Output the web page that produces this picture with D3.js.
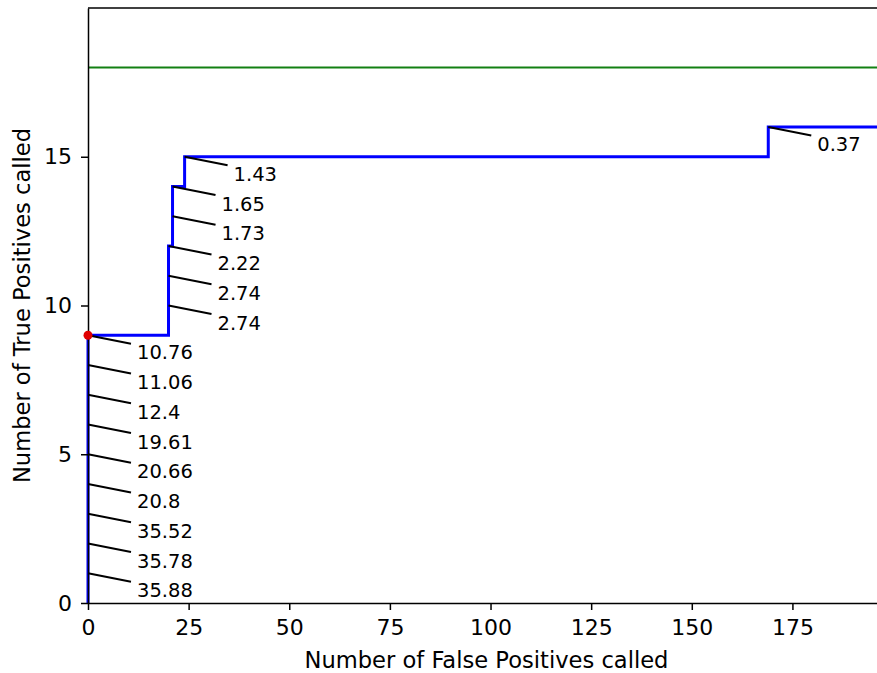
<!DOCTYPE html>
<html>
<head>
<meta charset="utf-8">
<script src="https://cdn.jsdelivr.net/npm/d3@7"></script>
<style>
  body { margin: 0; background: #fff; }
  svg { display: block; font-family: "DejaVu Sans", sans-serif; }
</style>
</head>
<body>
<div id="contents"></div>
<script>
// step curve vertices (false positives, true positives)
var stepFP = [0, 0, 20, 21, 24, 169, 198];
var stepTP = [0, 9, 12, 14, 15, 16, 16];

// annotated points and their score labels
var annFP = [0, 0, 0, 0, 0, 0, 0, 0, 0, 20, 20, 20, 21, 21, 24, 169];
var annTP = [1, 2, 3, 4, 5, 6, 7, 8, 9, 10, 11, 12, 13, 14, 15, 16];
var annLabel = ['35.88', '35.78', '35.52', '20.8', '20.66', '19.61', '12.4', '11.06',
                '10.76', '2.74', '2.74', '2.22', '1.73', '1.65', '1.43', '0.37'];

var totalTP = 18;
var markFP = [0], markTP = [9];

var xTicks = [0, 25, 50, 75, 100, 125, 150, 175];
var yTicks = [0, 5, 10, 15];

window.onload = function () {
    'use strict';
    var W = 877, H = 673;
    var left = 88, top = 8, right = 885, bottom = 603;

    var svg = d3.select('#contents').append('svg')
        .attr('width', W).attr('height', H);

    var x = d3.scaleLinear().domain([0, 198]).range([left, right]);
    var y = d3.scaleLinear().domain([0, 20]).range([bottom, top]);

    // total positives line
    svg.append('line')
        .attr('x1', x(0)).attr('x2', x(198))
        .attr('y1', y(totalTP)).attr('y2', y(totalTP))
        .attr('stroke', '#138013').attr('stroke-width', 2);

    // step line
    var pts = stepFP.map(function (d, i) { return [d, stepTP[i]]; });
    var line = d3.line()
        .x(function (d) { return x(d[0]); })
        .y(function (d) { return y(d[1]); })
        .curve(d3.curveStepAfter);
    svg.append('path')
        .attr('d', line(pts))
        .attr('fill', 'none')
        .attr('stroke', '#0000ff')
        .attr('stroke-width', 3);

    // annotations
    var ann = svg.append('g');
    annFP.forEach(function (fp, i) {
        var px = x(fp), py = y(annTP[i]);
        ann.append('line')
            .attr('x1', px).attr('y1', py)
            .attr('x2', px + 43).attr('y2', py + 8.5)
            .attr('stroke', '#000').attr('stroke-width', 2);
        ann.append('text')
            .attr('x', px + 49).attr('y', py + 24)
            .attr('font-size', 19.5)
            .attr('fill', '#000')
            .text(annLabel[i]);
    });

    // axes
    var xAxis = svg.append('g')
        .attr('transform', 'translate(0,' + bottom + ')')
        .call(d3.axisBottom(x).tickValues(xTicks).tickSize(7).tickSizeOuter(0).tickPadding(9));
    var yAxis = svg.append('g')
        .attr('transform', 'translate(' + left + ',0)')
        .call(d3.axisLeft(y).tickValues(yTicks).tickSize(7).tickSizeOuter(0).tickPadding(9));
    [xAxis, yAxis].forEach(function (a) {
        a.selectAll('text').attr('font-size', 22).attr('fill', '#000')
            .attr('font-family', '"DejaVu Sans", sans-serif');
        a.selectAll('line').attr('stroke', '#000').attr('stroke-width', 1.5);
        a.select('.domain').attr('stroke', '#000').attr('stroke-width', 1.5);
    });

    // top spine
    svg.append('line')
        .attr('x1', left).attr('x2', right)
        .attr('y1', top).attr('y2', top)
        .attr('stroke', '#000').attr('stroke-width', 1.5);

    // first-hit marker
    svg.selectAll('.mark').data(markFP).enter().append('circle')
        .attr('cx', function (d) { return x(d); })
        .attr('cy', function (d, i) { return y(markTP[i]); })
        .attr('r', 4.5)
        .attr('fill', '#e00000');

    // labels
    svg.append('text')
        .attr('x', (left + right) / 2).attr('y', 668)
        .attr('text-anchor', 'middle')
        .attr('font-size', 22.6)
        .text('Number of False Positives called');
    svg.append('text')
        .attr('transform', 'translate(30,' + (top + bottom) / 2 + ') rotate(-90)')
        .attr('text-anchor', 'middle')
        .attr('font-size', 22.6)
        .text('Number of True Positives called');
};
</script>
</body>
</html>
